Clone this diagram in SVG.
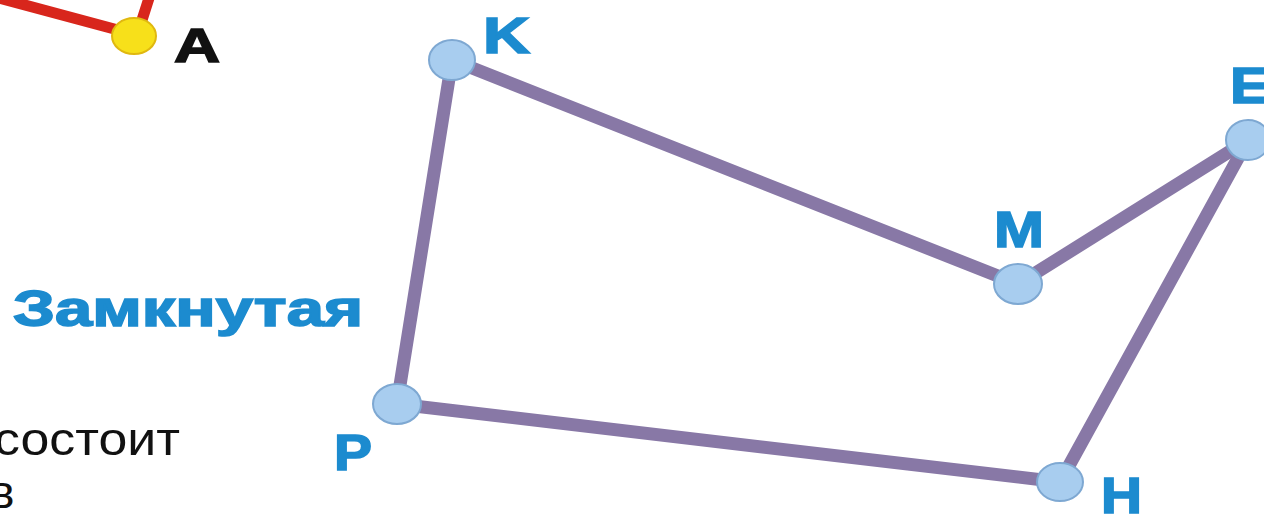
<svg xmlns="http://www.w3.org/2000/svg" width="1264" height="515" viewBox="0 0 1264 515">
<style>
.edge{stroke:#8878a6;stroke-width:13;stroke-linecap:round;fill:none}
.red{stroke:#d8261c;stroke-width:11;stroke-linecap:round;fill:none}
.node{fill:#a8cdef;stroke:#7ea8d2;stroke-width:2}
.lbl{font-family:"Liberation Sans",Arial,sans-serif;font-weight:bold;fill:#1c8bcf;stroke:#1c8bcf;stroke-width:1.6;font-size:50px}
.blk{font-family:"Liberation Sans",Arial,sans-serif;fill:#111}
</style>
<rect width="1264" height="515" fill="#fff"/>
<g id="connectors">
<line class="red" x1="-5" y1="-3" x2="118" y2="30"/>
<line class="red" x1="150" y1="-5" x2="142" y2="20"/>
<line class="edge" x1="452" y1="60" x2="1018" y2="284"/>
<line class="edge" x1="1018" y1="284" x2="1248" y2="140"/>
<line class="edge" x1="1248" y1="140" x2="1060" y2="482"/>
<line class="edge" x1="1060" y1="482" x2="397" y2="404"/>
<line class="edge" x1="397" y1="404" x2="452" y2="60"/>
</g>
<g id="node-A">
<ellipse cx="134" cy="36" rx="22" ry="18" fill="#f7e01a" stroke="#e0b810" stroke-width="2"/>
<text class="blk" x="174" y="62" font-size="48" font-weight="bold" stroke="#111" stroke-width="1.6" textLength="46" lengthAdjust="spacingAndGlyphs">A</text>
</g>
<g id="node-K">
<ellipse class="node" cx="452" cy="60" rx="23" ry="20"/>
<text class="lbl" x="483" y="53" font-size="46" textLength="47" lengthAdjust="spacingAndGlyphs">K</text>
</g>
<g id="node-E">
<ellipse class="node" cx="1248" cy="140" rx="22" ry="20"/>
<text class="lbl" x="1230" y="103" font-size="48" textLength="40" lengthAdjust="spacingAndGlyphs">E</text>
</g>
<g id="node-M">
<ellipse class="node" cx="1018" cy="284" rx="24" ry="20"/>
<text class="lbl" x="994" y="247" textLength="50" lengthAdjust="spacingAndGlyphs">M</text>
</g>
<g id="node-P">
<ellipse class="node" cx="397" cy="404" rx="24" ry="20"/>
<text class="lbl" x="334" y="470" textLength="38" lengthAdjust="spacingAndGlyphs">P</text>
</g>
<g id="node-H">
<ellipse class="node" cx="1060" cy="482" rx="23" ry="19"/>
<text class="lbl" x="1101" y="513" textLength="41" lengthAdjust="spacingAndGlyphs">H</text>
</g>
<g id="texts">
<text class="lbl" x="13" y="326" font-size="58" textLength="350" lengthAdjust="spacingAndGlyphs">Замкнутая</text>
<text class="blk" x="-6" y="455" font-size="46" textLength="186" lengthAdjust="spacingAndGlyphs">состоит</text>
<text class="blk" x="-10" y="508" font-size="46">в</text>
</g>
</svg>
